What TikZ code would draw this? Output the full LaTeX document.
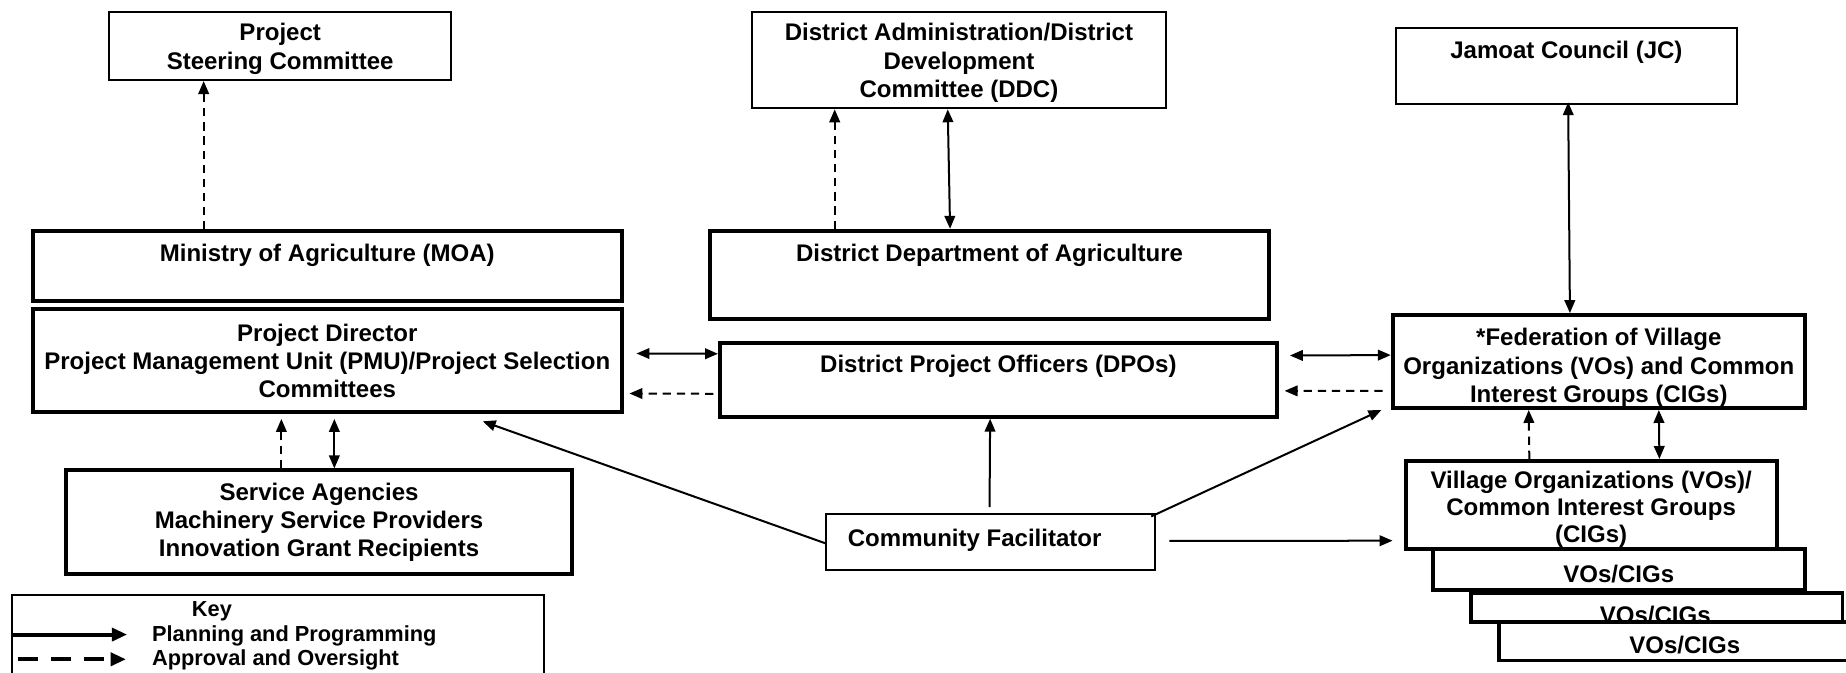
\documentclass[tikz,border=0pt]{standalone}
\usepackage{fontspec}
\setmainfont{Liberation Sans}
\usetikzlibrary{arrows.meta}
\begin{document}
\begin{tikzpicture}[x=1pt,y=-1pt,
  >={Triangle[length=11pt,width=9pt]},
  boxthin/.style={draw, line width=1.7pt, fill=white, inner sep=0pt},
  boxthick/.style={draw, line width=3.3pt, fill=white, inner sep=0pt},
  txt/.style={font=\fontsize{20.4}{24}\selectfont\bfseries, align=center, inner sep=0pt, yshift=-2.5pt},
  keytxt/.style={font=\fontsize{18.5}{21}\selectfont\bfseries, inner sep=0pt, yshift=-2.5pt},
  pp/.style={line width=1.7pt, ->},
  ppb/.style={line width=1.7pt, <->},
  ao/.style={line width=1.7pt, dash pattern=on 7pt off 5pt, ->},
  keysolid/.style={line width=3.5pt, -{Triangle[length=13pt,width=11pt]}},
  keydash/.style={line width=3.5pt, dash pattern=on 17pt off 11pt, -{Triangle[length=13pt,width=11pt]}},
]
\useasboundingbox (0,0) rectangle (1568,571);

% top row
\node[boxthin, minimum width=290pt, minimum height=58pt] (psc) at (238,39) {};
\node[txt] (psct) at (238,39) {Project\\Steering Committee};
\node[boxthin, minimum width=351pt, minimum height=82pt] (ddc) at (814.5,51) {};
\node[txt] (ddct) at (814.5,51) {District Administration/District\\Development\\Committee (DDC)};
\node[boxthin, minimum width=289pt, minimum height=64pt] (jc) at (1330.5,56) {};
\node[txt] (jct) at (1330.5,42) {Jamoat Council (JC)};

% second row
\node[boxthick, minimum width=500pt, minimum height=59pt] (moa) at (278,226) {};
\node[txt] (moat) at (278,214) {Ministry of Agriculture (MOA)};
\node[boxthick, minimum width=475pt, minimum height=75pt] (dda) at (840.5,233.5) {};
\node[txt] (ddat) at (840.5,214) {District Department of Agriculture};

% third row
\node[boxthick, minimum width=500pt, minimum height=87pt] (pd) at (278,306.2) {};
\node[txt] (pdt) at (278,304) {Project Director\\Project Management Unit (PMU)/Project Selection\\Committees};
\node[boxthick, minimum width=473pt, minimum height=63pt] (dpo) at (848,322.5) {};
\node[txt] (dpot) at (848,309) {District Project Officers (DPOs)};
\node[boxthick, minimum width=350pt, minimum height=79pt] (fed) at (1358,307.1) {};
\node[txt] (fedt) at (1358,310) {*Federation of Village\\Organizations (VOs) and Common\\Interest Groups (CIGs)};

% lower row
\node[boxthick, minimum width=430pt, minimum height=88pt] (sa) at (271,443.5) {};
\node[txt] (sat) at (271,441) {Service Agencies\\Machinery Service Providers\\Innovation Grant Recipients};
\node[boxthin, minimum width=279pt, minimum height=48pt] (cf) at (841.5,460.5) {};
\node[txt, anchor=west] (cft) at (720,456) {Community Facilitator};

% village organization stack
\node[boxthick, minimum width=315pt, minimum height=74.5pt] (vo) at (1351.5,428.75) {};
\node[txt, font=\fontsize{20.4}{22.6}\selectfont\bfseries] (vot) at (1351.5,430) {Village Organizations (VOs)/\\Common Interest Groups\\(CIGs)};
\node[boxthick, minimum width=316pt, minimum height=35.5pt] (v1) at (1375,483.75) {};
\node[txt] (v1t) at (1375,485) {VOs/CIGs};
\node[boxthick, minimum width=315.4pt, minimum height=24.5pt] (v2) at (1407.3,515.75) {};
\node[txt] (v2t) at (1406,519.5) {VOs/CIGs};
\node[boxthick, minimum width=317pt, minimum height=33pt] (v3) at (1431.5,544.5) {};
\node[txt] (v3t) at (1431,545) {VOs/CIGs};

% key
\node[boxthin, minimum width=452pt, minimum height=105pt] (key) at (236,557.5) {};
\node[keytxt] (keyt) at (180,517) {Key};
\node[keytxt, anchor=west] (k1t) at (129,538) {Planning and Programming};
\node[keytxt, anchor=west] (k2t) at (129,558) {Approval and Oversight};
\coordinate (k1e) at (108,539);
\coordinate (k2s) at (15,560);
\coordinate (k2e) at (107,560);
\draw[keysolid] (key.west |- k1e) -- (k1e);
\draw[keydash] (k2s) -- (k2e);

% connectors
\draw[ao] ([xshift=-105pt]moa.north) -- ([xshift=-65pt]psc.south);
\draw[ao] ([xshift=-131.5pt]dda.north) -- ([xshift=-105.5pt]ddc.south);
\draw[ppb] ([xshift=-9.5pt]ddc.south) -- ([xshift=-33.5pt]dda.north);
\draw[ppb] ([xshift=1.5pt,yshift=2pt]jc.south) -- ([xshift=-24.5pt]fed.north);

\draw[ppb, shorten <=11pt] ([yshift=6pt]pd.east) -- ([yshift=22pt]dpo.west);
\draw[ao, shorten <=4pt, shorten >=5pt] ([yshift=-12pt]dpo.west) -- ([yshift=-28pt]pd.east);
\draw[ppb, shorten <=9.5pt] ([yshift=20.5pt]dpo.east) -- ([yshift=5.5pt]fed.west);
\draw[ao, shorten <=7pt, shorten >=5pt] ([yshift=-25pt]fed.west) -- ([yshift=-9.5pt]dpo.east);

\draw[ao] ([xshift=-32pt]sa.north) -- ([xshift=-39pt,yshift=-4.5pt]pd.south);
\draw[ppb, shorten <=4.5pt] ([xshift=6pt]pd.south) -- ([xshift=13pt]sa.north);

\draw[pp] ([yshift=-1pt]cf.west) -- ([xshift=132pt,yshift=-6.5pt]pd.south);
\draw[pp, shorten <=5pt] ([xshift=-1pt]cf.north) -- ([xshift=-7pt]dpo.south);
\draw[pp] ([xshift=-4pt,yshift=-3pt]cf.north east) -- ([xshift=-8pt]fed.south west);
\draw[pp, shorten <=11.5pt, shorten >=9.5pt] ([yshift=1pt]cf.east) -- ([yshift=-30.5pt]vo.west);

\draw[ao] ([xshift=-52.5pt]vo.north) -- ([xshift=-59.5pt]fed.south);
\draw[ppb] ([xshift=51pt]fed.south) -- ([xshift=58pt]vo.north);
\end{tikzpicture}
\end{document}
